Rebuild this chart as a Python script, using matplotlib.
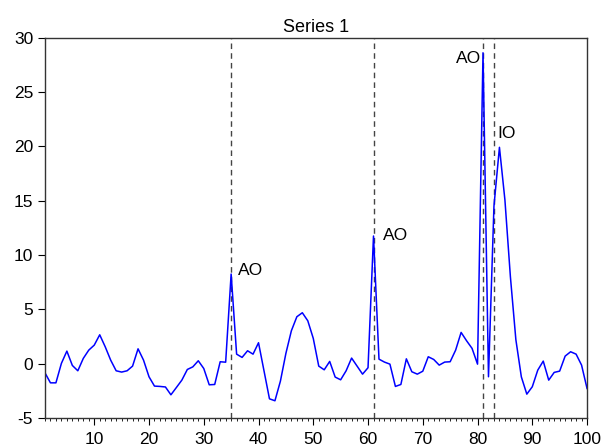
import matplotlib.pyplot as plt
from matplotlib.ticker import MultipleLocator

plt.rcParams['font.family'] = ['Liberation Sans', 'DejaVu Sans']
plt.rcParams['axes.unicode_minus'] = False

# Havainnot 1..100
x = list(range(1, 101))
y = [-0.85, -1.77, -1.77, 0.02, 1.15, -0.17, -0.66, 0.48, 1.24, 1.70,
     2.65, 1.55, 0.32, -0.66, -0.78, -0.66, -0.23, 1.36, 0.32, -1.21,
     -2.07, -2.10, -2.15, -2.87, -2.20, -1.52, -0.54, -0.30, 0.26, -0.45,
     -1.95, -1.92, 0.17, 0.13, 8.24, 0.87, 0.57, 1.18, 0.87, 1.92,
     -0.66, -3.24, -3.42, -1.61, 0.94, 3.02, 4.31, 4.68, 3.94, 2.32,
     -0.23, -0.57, 0.20, -1.24, -1.49, -0.66, 0.51, -0.23, -0.97, -0.38,
     11.74, 0.41, 0.14, -0.05, -2.10, -1.92, 0.44, -0.75, -0.97, -0.70,
     0.63, 0.38, -0.14, 0.14, 0.17, 1.24, 2.87, 2.10, 1.40, -0.05,
     28.6, -1.21, 14.5, 19.9, 15.06, 8.0, 2.2, -1.22, -2.81, -2.13,
     -0.60, 0.23, -1.52, -0.81, -0.69, 0.69, 1.09, 0.87, -0.14, -2.29]

# Poikkeavat havainnot ja niiden tyypit
outlier_x = [35, 61, 81, 83]
labels = ['AO', 'AO', 'AO', 'IO']
label_pos = [(36.3, 8.6, 'left'), (62.7, 11.8, 'left'), (80.7, 28.1, 'right'), (83.6, 21.2, 'left')]

fig = plt.figure(figsize=(6.16, 4.47), dpi=100)
ax = fig.add_axes([0.073, 0.065, 0.88, 0.851])

for ox in outlier_x:
    ax.axvline(ox, color='#444444', lw=1, linestyle=(0, (4, 3)), zorder=1)

ax.plot(x, y, color='blue', lw=1.1, zorder=2)

for (tx, ty, ha), lab in zip(label_pos, labels):
    ax.text(tx, ty, lab, fontsize=12.5, ha=ha, va='center')

ax.set_xlim(1, 100)
ax.set_ylim(-5, 30)
ax.set_title('Series 1', fontsize=13, pad=4)

ax.xaxis.set_major_locator(MultipleLocator(10))
ax.xaxis.set_minor_locator(MultipleLocator(1))
ax.yaxis.set_major_locator(MultipleLocator(5))
ax.set_xticks(range(10, 101, 10))
ax.tick_params(axis='both', which='major', direction='out', length=5, labelsize=12.5, width=0.8)
ax.tick_params(axis='x', which='major', pad=5)
ax.tick_params(axis='x', which='minor', direction='out', length=2.5, width=0.6)
for s in ax.spines.values():
    s.set_color('#333333')
    s.set_linewidth(1)

fig.savefig('out.png', dpi=100)
